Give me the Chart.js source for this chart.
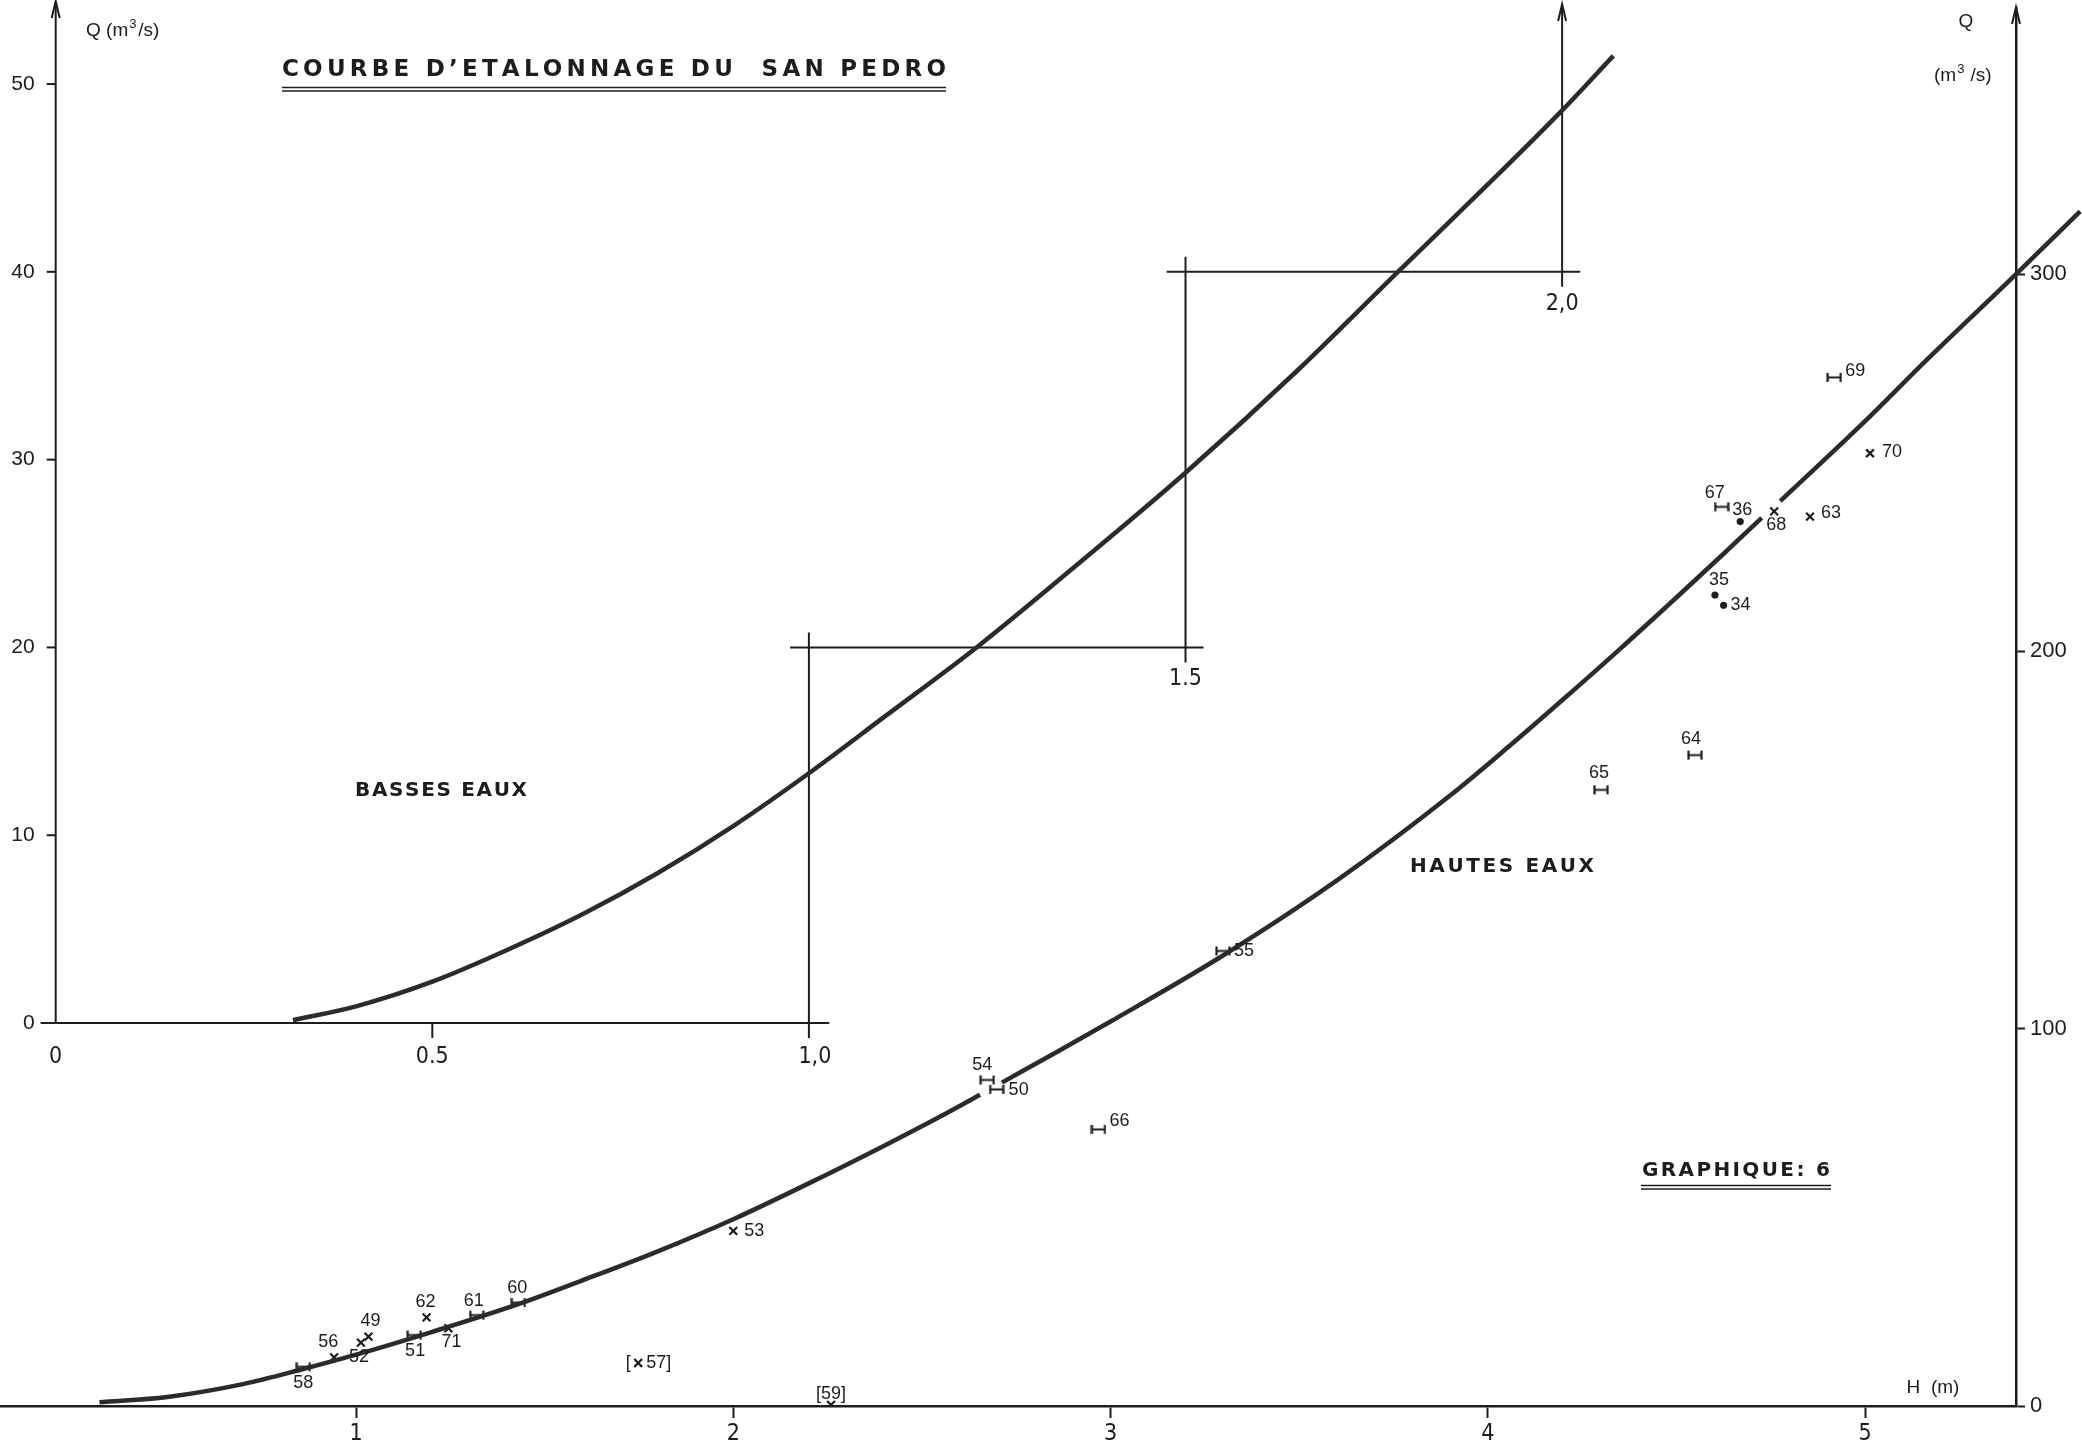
<!DOCTYPE html>
<html><head><meta charset="utf-8">
<script src="https://cdn.jsdelivr.net/npm/chart.js@4.4.0/dist/chart.umd.min.js"></script>
<style>html,body{margin:0;padding:0;background:#fff;}#wrap{width:2082px;height:1448px;}</style>
</head><body><div id="wrap"><canvas id="c" width="2082" height="1448"></canvas></div>
<script>
// ---------- DATA ----------
// Basses eaux (low water) rating curve: H (m), Q (m3/s)
const lowH = [0.315, 0.4, 0.5, 0.6, 0.7, 0.8, 0.9, 1.0, 1.1, 1.2226, 1.35, 1.5, 1.65, 1.782, 1.9, 2.0, 2.068];
const lowQ = [0.15, 0.9, 2.2, 3.9, 5.8, 8.0, 10.5, 13.3, 16.3, 20.0, 24.2, 29.3, 34.8, 40.0, 44.6, 48.6, 51.5];
// Hautes eaux (high water) rating curve (null = gap in the drawn line)
const highH = [0.32, 0.5, 0.7, 0.86, 1.0, 1.2, 1.43, 1.6, 1.8, 2.0, 2.2, 2.4, 2.55, 2.654, 2.68, 2.712, 2.866, 3.0, 3.298, 3.6, 3.9, 4.05, 4.2, 4.35, 4.51, 4.62, 4.726, 4.75, 4.775, 5.0, 5.168, 5.39, 5.57];
const highQ = [1.0, 2.4, 5.8, 9.8, 13.6, 19.6, 27.0, 33.3, 41.0, 49.5, 59.0, 69.0, 76.8, 82.5, null, 85.7, 94.3, 101.9, 119.4, 139.3, 161.8, 174.3, 187.3, 200.6, 215.2, 225.4, 235.4, null, 239.8, 261.0, 277.7, 299.0, 316.6];
// Jaugeages (gaugings)
const gaugeIds = ['58','56','52','49','51','62','71','61','60','53','57','59','54','50','66','55','65','64','69','70','67','36','68','63','35','34'];
const gaugeH   = [0.860,0.942,1.013,1.033,1.154,1.187,1.245,1.320,1.430,2.000,1.748,2.259,2.673,2.698,2.968,3.298,4.300,4.549,4.918,5.013,4.620,4.669,4.759,4.854,4.602,4.625];
const gaugeQ   = [10.4,12.9,16.8,18.4,18.8,23.5,20.6,24.1,27.4,46.4,11.4,0.3,86.4,83.9,73.3,120.6,163.3,172.5,272.6,252.5,238.3,234.4,237.1,235.7,214.9,212.2];
const gaugeMark= ['H','x','x','x','H','x','x','H','H','x','x','x','H','H','H','H','H','H','H','x','H','o','x','x','o','o'];
// Tick labels
const highTicksH = [1, 2, 3, 4, 5];
const highTicksQ = [0, 100, 200, 300];
const lowTicksQ = [0, 10, 20, 30, 40, 50];
const lowTicksH = [0, 0.5, 1.0];
const lowTickText = ['0', '0.5', '1,0'];
const stepH = [1.0, 1.5, 2.0];
const stepQ = [0, 20, 40];
const stepText = ['1.5', '2,0'];

// ---------- STYLE ----------
const INK = '#1d1d1d';
const CURVE = '#2b2b2b';
const NARROW = "'Liberation Sans Narrow','DejaVu Sans Condensed','Liberation Sans',sans-serif";
const SANS = "'Liberation Sans','DejaVu Sans',sans-serif";
// label offsets (px) relative to each gauging point
const labelDx = [0,-6,-2,2,1,-1,3,-3,-1,21,0,0,-5,22,21,21,-2,-4,21,22,-7,2,2,21,4,17];
const labelDy = [16,-15,14,-16,16,-15,14,-14,-15,0,0,-11,-15,1,-8,0,-17,-16,-6,-1,-14,-12,14,-4,-15,0];

function hMarker() {
  const c = document.createElement('canvas'); c.width = 16; c.height = 11;
  const g = c.getContext('2d'); g.strokeStyle = INK; g.lineWidth = 2.2;
  g.beginPath(); g.moveTo(1.5,1); g.lineTo(1.5,10); g.moveTo(14.5,1); g.lineTo(14.5,10);
  g.moveTo(1.5,5.5); g.lineTo(14.5,5.5); g.stroke();
  return c;
}
const HM = hMarker();

const lowCurve = lowH.map((h, i) => ({x: h, y: lowQ[i]}));
const highCurve = highH.map((h, i) => ({x: h, y: highQ[i]}));
const gauges = gaugeH.map((h, i) => ({x: h, y: gaugeQ[i]}));

function spaced(ctx, str, cx, y, targetW) {
  const chars = [...str];
  const ws = chars.map(ch => ctx.measureText(ch).width);
  const natural = ws.reduce((a, b) => a + b, 0);
  const sp = chars.length > 1 ? (targetW - natural) / (chars.length - 1) : 0;
  let x = cx - targetW / 2;
  ctx.textAlign = 'left';
  chars.forEach((ch, i) => { ctx.fillText(ch, x, y); x += ws[i] + sp; });
}
function seg(ctx, x1, y1, x2, y2) { ctx.beginPath(); ctx.moveTo(x1, y1); ctx.lineTo(x2, y2); ctx.stroke(); }
function arrowUp(ctx, x, yTip) { ctx.beginPath(); ctx.moveTo(x - 4, yTip + 17); ctx.lineTo(x, yTip); ctx.lineTo(x + 4, yTip + 17); ctx.stroke(); }
function noPad(s) { s.paddingTop = 0; s.paddingBottom = 0; s.paddingLeft = 0; s.paddingRight = 0; }

const decor = {
  id: 'decor',
  beforeDatasetsDraw(chart) {
    const {ctx} = chart;
    const xl = chart.scales.xLow, yl = chart.scales.yLow;
    const px = v => xl.getPixelForValue(v), py = v => yl.getPixelForValue(v);
    ctx.save();
    ctx.strokeStyle = INK; ctx.lineWidth = 2; ctx.fillStyle = INK;
    // low-water Q axis
    seg(ctx, px(0), py(0), px(0), 2);
    arrowUp(ctx, px(0), 1);
    lowTicksQ.forEach(q => seg(ctx, px(0) - 9, py(q), px(0), py(q)));
    ctx.font = '21px ' + SANS; ctx.textAlign = 'right'; ctx.textBaseline = 'middle';
    lowTicksQ.forEach(q => ctx.fillText(String(q), px(0) - 21, py(q)));
    // low-water H axis (base)
    seg(ctx, px(-0.02), py(0), px(stepH[0] + 0.027), py(0));
    seg(ctx, px(0.5), py(0), px(0.5), py(0) + 15);
    ctx.font = '23px ' + NARROW; ctx.textAlign = 'center';
    lowTicksH.forEach((h, i) => ctx.fillText(lowTickText[i], px(h) + (i === 2 ? 6 : 0), py(0) + 34));
    // stepped reference axes
    for (let i = 0; i < stepH.length; i++) {
      const yBottom = py(stepQ[i]) + 15;
      const yTop = i + 1 < stepQ.length ? py(stepQ[i + 1]) - 15 : 6;
      seg(ctx, px(stepH[i]), yBottom, px(stepH[i]), yTop);
      if (i + 1 < stepQ.length) {
        seg(ctx, px(stepH[i] - 0.025), py(stepQ[i + 1]), px(stepH[i + 1] + 0.024), py(stepQ[i + 1]));
        ctx.fillText(stepText[i], px(stepH[i + 1]), py(stepQ[i + 1]) + 32);
      } else {
        arrowUp(ctx, px(stepH[i]), 4);
      }
    }
    // right axis arrow
    const yr = chart.scales.y;
    seg(ctx, yr.left, chart.chartArea.top, yr.left, 8);
    arrowUp(ctx, yr.left, 7);
    ctx.restore();
  },
  afterDatasetsDraw(chart) {
    const {ctx} = chart;
    ctx.save();
    ctx.fillStyle = INK; ctx.strokeStyle = INK;
    // gauging labels
    const meta = chart.getDatasetMeta(2);
    ctx.font = '18px ' + SANS; ctx.textBaseline = 'middle'; ctx.textAlign = 'center';
    meta.data.forEach((pt, i) => {
      const id = gaugeIds[i];
      const x = pt.x + labelDx[i], y = pt.y + labelDy[i];
      if (id === '57') {
        ctx.textAlign = 'center'; ctx.fillText('[', pt.x - 10, pt.y);
        ctx.textAlign = 'left'; ctx.fillText('57]', pt.x + 8, pt.y);
        ctx.textAlign = 'center';
      } else if (id === '59') {
        ctx.fillText('[59]', x, y);
      } else {
        ctx.fillText(id, x, y);
      }
    });
    // titles and notes
    ctx.textBaseline = 'middle';
    ctx.font = 'bold 23px ' + "'DejaVu Sans',sans-serif";
    spaced(ctx, 'COURBE D\u2019ETALONNAGE DU  SAN PEDRO', 614, 70, 664);
    ctx.lineWidth = 1.6; seg(ctx, 282, 87.5, 946, 87.5); seg(ctx, 282, 91, 946, 91);
    ctx.font = 'bold 20px ' + "'DejaVu Sans',sans-serif";
    spaced(ctx, 'BASSES EAUX', 441, 791, 172);
    spaced(ctx, 'HAUTES EAUX', 1502, 867, 184);
    spaced(ctx, 'GRAPHIQUE: 6', 1736, 1171, 188);
    ctx.lineWidth = 1.6; seg(ctx, 1641, 1185.5, 1831, 1185.5); seg(ctx, 1641, 1189, 1831, 1189);
    // axis units
    ctx.font = '19px ' + SANS; ctx.textAlign = 'left';
    ctx.fillText('Q (m', 86, 31);
    let w = ctx.measureText('Q (m').width;
    ctx.font = '13px ' + SANS; ctx.fillText('3', 86 + w + 1, 24);
    ctx.font = '19px ' + SANS; ctx.fillText('/s)', 86 + w + 10, 31);
    ctx.textAlign = 'center';
    ctx.fillText('Q', 1966, 22);
    ctx.textAlign = 'left';
    ctx.fillText('(m', 1934, 76);
    w = ctx.measureText('(m').width;
    ctx.font = '13px ' + SANS; ctx.fillText('3', 1934 + w + 1, 69);
    ctx.font = '19px ' + SANS; ctx.fillText(' /s)', 1934 + w + 9, 76);
    ctx.textAlign = 'center';
    ctx.fillText('H  (m)', 1933, 1388);
    ctx.restore();
  }
};

new Chart(document.getElementById('c'), {
  type: 'scatter',
  data: {
    datasets: [
      { label: 'Hautes eaux', data: highCurve, xAxisID: 'x', yAxisID: 'y', showLine: true,
        borderColor: CURVE, borderWidth: 4.5, pointRadius: 0, cubicInterpolationMode: 'monotone',
        spanGaps: false, clip: false },
      { label: 'Basses eaux', data: lowCurve, xAxisID: 'xLow', yAxisID: 'yLow', showLine: true,
        borderColor: CURVE, borderWidth: 4.5, pointRadius: 0, cubicInterpolationMode: 'monotone', clip: false },
      { label: 'Jaugeages', data: gauges, xAxisID: 'x', yAxisID: 'y',
        pointStyle: c => { const m = gaugeMark[c.dataIndex]; return m === 'H' ? HM : (m === 'x' ? 'crossRot' : 'circle'); },
        pointRadius: c => { const m = gaugeMark[c.dataIndex]; return m === 'x' ? 5.5 : (m === 'o' ? 2.5 : 8); },
        borderColor: INK, backgroundColor: INK, borderWidth: 2.2 }
    ]
  },
  options: {
    responsive: false, animation: false, devicePixelRatio: 1,
    layout: { autoPadding: false, padding: { top: 8, left: 0, right: 0, bottom: 0 } },
    plugins: { legend: { display: false }, tooltip: { enabled: false }, title: { display: false } },
    scales: {
      x: { type: 'linear', position: 'bottom', min: 0.0563, max: 5.400,
        afterBuildTicks: s => { s.ticks = highTicksH.map(v => ({value: v})); },
        afterFit: s => { s.height = 42; noPad(s); },
        grid: { display: true, drawOnChartArea: false, drawTicks: true, tickLength: 12, tickColor: INK, tickWidth: 2 },
        border: { display: true, color: INK, width: 2.5 },
        ticks: { color: INK, font: { family: NARROW, size: 23 }, padding: 2, maxRotation: 0, callback: v => String(v) } },
      y: { type: 'linear', position: 'right', min: 0, max: 370.5,
        afterBuildTicks: s => { s.ticks = highTicksQ.map(v => ({value: v})); },
        afterFit: s => { s.width = 66; noPad(s); },
        grid: { display: true, drawOnChartArea: false, drawTicks: true, tickLength: 9, tickColor: INK, tickWidth: 2 },
        border: { display: true, color: INK, width: 2.5 },
        ticks: { color: INK, font: { family: SANS, size: 22 }, padding: 5, callback: v => String(v) } },
      xLow: { type: 'linear', display: false, min: -0.07395, max: 2.6026 },
      yLow: { type: 'linear', display: false, min: -20.394, max: 54.05 }
    }
  },
  plugins: [decor]
});
</script></body></html>
